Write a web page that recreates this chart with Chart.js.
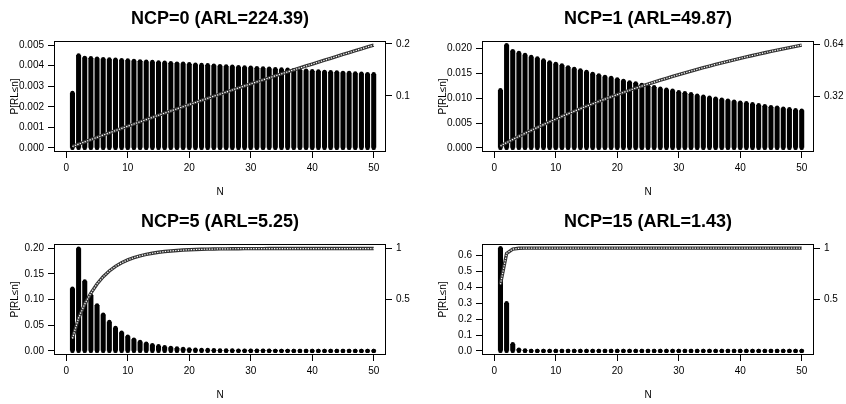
<!DOCTYPE html>
<html lang="en">
<head>
  <meta charset="UTF-8">
  <title>Run length distribution</title>
  <script src="https://cdn.jsdelivr.net/npm/chart.js"></script>
  <style>
    html, body { margin: 0; padding: 0; background: #fff; overflow: hidden; }
    body { width: 846px; height: 404px; position: relative; }
    .panel { position: absolute; height: 202px; }
  </style>
</head>
<body>
  <div class="panel" style="left:0;top:0;width:423px"><canvas id="p0"></canvas></div>
  <div class="panel" style="left:428px;top:0;width:418px"><canvas id="p1"></canvas></div>
  <div class="panel" style="left:0;top:203px;width:423px"><canvas id="p2"></canvas></div>
  <div class="panel" style="left:428px;top:203px;width:418px"><canvas id="p3"></canvas></div>

  <script>
    // run lengths
    const runN = [1, 2, 3, 4, 5, 6, 7, 8, 9, 10, 11, 12, 13, 14, 15, 16, 17, 18, 19, 20,
      21, 22, 23, 24, 25, 26, 27, 28, 29, 30, 31, 32, 33, 34, 35, 36, 37, 38, 39, 40,
      41, 42, 43, 44, 45, 46, 47, 48, 49, 50];
    const xTicks = [0, 10, 20, 30, 40, 50];

    // NCP=0 : P[RL=n] and P[RL<=n]
    const pmf0 = [0.00267, 0.00450, 0.00438, 0.00436, 0.00434, 0.00432, 0.00430, 0.00429, 0.00427, 0.00425,
      0.00423, 0.00421, 0.00419, 0.00418, 0.00416, 0.00414, 0.00412, 0.00410, 0.00409, 0.00407,
      0.00405, 0.00403, 0.00402, 0.00400, 0.00398, 0.00396, 0.00395, 0.00393, 0.00391, 0.00390,
      0.00388, 0.00386, 0.00385, 0.00383, 0.00381, 0.00380, 0.00378, 0.00377, 0.00375, 0.00373,
      0.00372, 0.00370, 0.00368, 0.00367, 0.00365, 0.00364, 0.00362, 0.00361, 0.00359, 0.00358];
    const cdf0 = [0.0027, 0.0072, 0.0116, 0.0159, 0.0203, 0.0246, 0.0289, 0.0332, 0.0374, 0.0417,
      0.0459, 0.0501, 0.0543, 0.0585, 0.0627, 0.0668, 0.0709, 0.0750, 0.0791, 0.0832,
      0.0872, 0.0913, 0.0953, 0.0993, 0.1033, 0.1072, 0.1112, 0.1151, 0.1190, 0.1229,
      0.1268, 0.1307, 0.1345, 0.1384, 0.1422, 0.1460, 0.1498, 0.1535, 0.1573, 0.1610,
      0.1647, 0.1684, 0.1721, 0.1758, 0.1794, 0.1831, 0.1867, 0.1903, 0.1939, 0.1974];

    // NCP=1
    const pmf1 = [0.0116, 0.0207, 0.0195, 0.0191, 0.0187, 0.0183, 0.0180, 0.0176, 0.0172, 0.0169,
      0.0166, 0.0162, 0.0159, 0.0156, 0.0153, 0.0149, 0.0146, 0.0143, 0.0141, 0.0138,
      0.0135, 0.0132, 0.0130, 0.0127, 0.0124, 0.0122, 0.0119, 0.0117, 0.0115, 0.0112,
      0.0110, 0.0108, 0.0105, 0.0103, 0.0101, 0.0099, 0.0097, 0.0095, 0.0093, 0.0091,
      0.0090, 0.0088, 0.0086, 0.0084, 0.0082, 0.0081, 0.0079, 0.0078, 0.0076, 0.0075];
    const cdf1 = [0.0116, 0.0323, 0.0518, 0.0709, 0.0896, 0.1080, 0.1260, 0.1435, 0.1608, 0.1777,
      0.1943, 0.2105, 0.2263, 0.2419, 0.2572, 0.2721, 0.2868, 0.3011, 0.3151, 0.3288,
      0.3424, 0.3555, 0.3685, 0.3812, 0.3936, 0.4058, 0.4177, 0.4294, 0.4408, 0.4520,
      0.4630, 0.4738, 0.4843, 0.4946, 0.5047, 0.5146, 0.5243, 0.5338, 0.5431, 0.5523,
      0.5612, 0.5700, 0.5786, 0.5869, 0.5952, 0.6033, 0.6113, 0.6189, 0.6265, 0.6340];

    // NCP=5
    const pmf5 = [0.121, 0.199, 0.135, 0.108, 0.0885, 0.0703, 0.0561, 0.0445, 0.0354, 0.0277,
      0.0219, 0.0174, 0.0141, 0.0113, 0.0091, 0.0073, 0.0059, 0.0047, 0.0038, 0.0030,
      0.0024, 0.0019, 0.0016, 0.0013, 0.0010, 0.0008, 0.0007, 0.0005, 0.0004, 0.0003,
      0.0003, 0.0002, 0.0002, 0.0001, 0.0001, 0.0001, 0, 0, 0, 0,
      0, 0, 0, 0, 0, 0, 0, 0, 0, 0];
    const cdf5 = [0.121, 0.320, 0.455, 0.563, 0.6515, 0.7218, 0.7779, 0.8224, 0.8578, 0.8855,
      0.9074, 0.9248, 0.9389, 0.9502, 0.9593, 0.9666, 0.9725, 0.9772, 0.9810, 0.9840,
      0.9864, 0.9883, 0.9899, 0.9912, 0.9922, 0.9930, 0.9937, 0.9942, 0.9946, 0.9949,
      0.9952, 0.9954, 0.9956, 0.9957, 0.9958, 0.9959, 0.9959, 0.9959, 0.9959, 0.9959,
      0.9959, 0.9959, 0.9959, 0.9959, 0.9959, 0.9959, 0.9959, 0.9959, 0.9959, 0.9959];

    // NCP=15
    const pmf15 = [0.648, 0.300, 0.042, 0.008, 0.002, 0, 0, 0, 0, 0,
      0, 0, 0, 0, 0, 0, 0, 0, 0, 0,
      0, 0, 0, 0, 0, 0, 0, 0, 0, 0,
      0, 0, 0, 0, 0, 0, 0, 0, 0, 0,
      0, 0, 0, 0, 0, 0, 0, 0, 0, 0];
    const cdf15 = [0.648, 0.948, 0.990, 0.998, 1.000, 1, 1, 1, 1, 1,
      1, 1, 1, 1, 1, 1, 1, 1, 1, 1,
      1, 1, 1, 1, 1, 1, 1, 1, 1, 1,
      1, 1, 1, 1, 1, 1, 1, 1, 1, 1,
      1, 1, 1, 1, 1, 1, 1, 1, 1, 1];

    // axis ticks
    const leftTicks0 = [0, 0.001, 0.002, 0.003, 0.004, 0.005];
    const leftTicks1 = [0, 0.005, 0.010, 0.015, 0.020];
    const leftTicks5 = [0, 0.05, 0.10, 0.15, 0.20];
    const leftTicks15 = [0, 0.1, 0.2, 0.3, 0.4, 0.5, 0.6];
    const rightTicks0 = [0.1, 0.2];
    const rightTicks1 = [0.32, 0.64];
    const rightTicks5 = [0.5, 1];
    const rightTicks15 = [0.5, 1];

    const FONT = '"Liberation Sans", Arial, Helvetica, sans-serif';

    // frame round the plot region
    const boxPlugin = {
      id: 'box',
      afterDraw(chart) {
        const { ctx, chartArea: a } = chart;
        ctx.save();
        ctx.strokeStyle = '#000';
        ctx.lineWidth = 1;
        ctx.strokeRect(a.left + 0.5, a.top + 0.5, a.right - a.left - 1, a.bottom - a.top - 1);
        ctx.restore();
      }
    };

    function pts(vals) {
      return runN.map((n, i) => ({ x: n, y: vals[i] }));
    }

    function makePanel(id, title, pmf, cdf, yRange, yTicks, digits, y2Range, y2Ticks, rightW) {
      const tickFont = { family: FONT, size: 10 };
      return new Chart(document.getElementById(id), {
        type: 'bar',
        data: {
          datasets: [
            { type: 'line', data: pts(cdf), yAxisID: 'y2', borderColor: '#fff', borderWidth: 1.2,
              borderDash: [1.3, 1.3], pointRadius: 0, order: 0 },
            { type: 'line', data: pts(cdf), yAxisID: 'y2', borderColor: '#333', borderWidth: 3.4,
              pointRadius: 0, order: 1 },
            { type: 'line', data: pts(pmf), showLine: false, pointRadius: 2.2,
              pointBackgroundColor: '#000', pointBorderWidth: 0, order: 2 },
            { type: 'line', data: runN.map(n => ({ x: n, y: 0 })), showLine: false, pointRadius: 2.2,
              pointBackgroundColor: '#000', pointBorderWidth: 0, order: 2 },
            { type: 'bar', data: pts(pmf), backgroundColor: '#000', borderWidth: 0,
              barThickness: 4.4, grouped: false, order: 3 }
          ]
        },
        options: {
          animation: false,
          responsive: true,
          maintainAspectRatio: false,
          devicePixelRatio: 1,
          layout: { autoPadding: false, padding: 0 },
          plugins: {
            legend: { display: false },
            tooltip: { enabled: false },
            title: {
              display: true, text: title, fullSize: false, color: '#000',
              font: { family: FONT, size: 18, weight: 'bold', lineHeight: 1.2 },
              padding: { top: 8, bottom: 11.4 }
            }
          },
          scales: {
            x: {
              type: 'linear', min: -2, max: 52, offset: false,
              afterBuildTicks: s => { s.ticks = xTicks.map(v => ({ value: v })); },
              afterFit: s => { s.height = 50; },
              grid: { drawOnChartArea: false, drawTicks: true, tickLength: 6, color: '#000', offset: false },
              border: { display: false },
              ticks: { color: '#000', font: tickFont, padding: 4, maxRotation: 0, autoSkip: false },
              title: { display: true, text: 'N', color: '#000', font: tickFont, padding: { top: 0, bottom: 4 } }
            },
            y: {
              position: 'left', min: yRange[0], max: yRange[1],
              afterBuildTicks: s => { s.ticks = yTicks.map(v => ({ value: v })); },
              afterFit: s => { s.width = 54; },
              grid: { drawOnChartArea: false, drawTicks: true, tickLength: 6, color: '#000' },
              border: { display: false },
              ticks: { color: '#000', font: tickFont, padding: 4, autoSkip: false,
                callback: v => Number(v).toFixed(digits) },
              title: { display: true, text: 'P[RL≤n]', color: '#000', font: tickFont, padding: { top: 9, bottom: 0 } }
            },
            y2: {
              position: 'right', min: y2Range[0], max: y2Range[1],
              afterBuildTicks: s => { s.ticks = y2Ticks.map(v => ({ value: v })); },
              afterFit: s => { s.width = rightW; },
              grid: { drawOnChartArea: false, drawTicks: true, tickLength: 6, color: '#000' },
              border: { display: false },
              ticks: { color: '#000', font: tickFont, padding: 4, autoSkip: false,
                callback: v => String(v) }
            }
          }
        },
        plugins: [boxPlugin]
      });
    }

    makePanel('p0', 'NCP=0 (ARL=224.39)', pmf0, cdf0, [-0.0002, 0.0052], leftTicks0, 3,
      [-0.0079, 0.2053], rightTicks0, 37);
    makePanel('p1', 'NCP=1 (ARL=49.87)', pmf1, cdf1, [-0.00083, 0.02153], leftTicks1, 3,
      [-0.0254, 0.6594], rightTicks1, 32);
    makePanel('p2', 'NCP=5 (ARL=5.25)', pmf5, cdf5, [-0.008, 0.208], leftTicks5, 2,
      [-0.04, 1.04], rightTicks5, 37);
    makePanel('p3', 'NCP=15 (ARL=1.43)', pmf15, cdf15, [-0.0259, 0.6739], leftTicks15, 1,
      [-0.04, 1.04], rightTicks15, 32);
  </script>
</body>
</html>
